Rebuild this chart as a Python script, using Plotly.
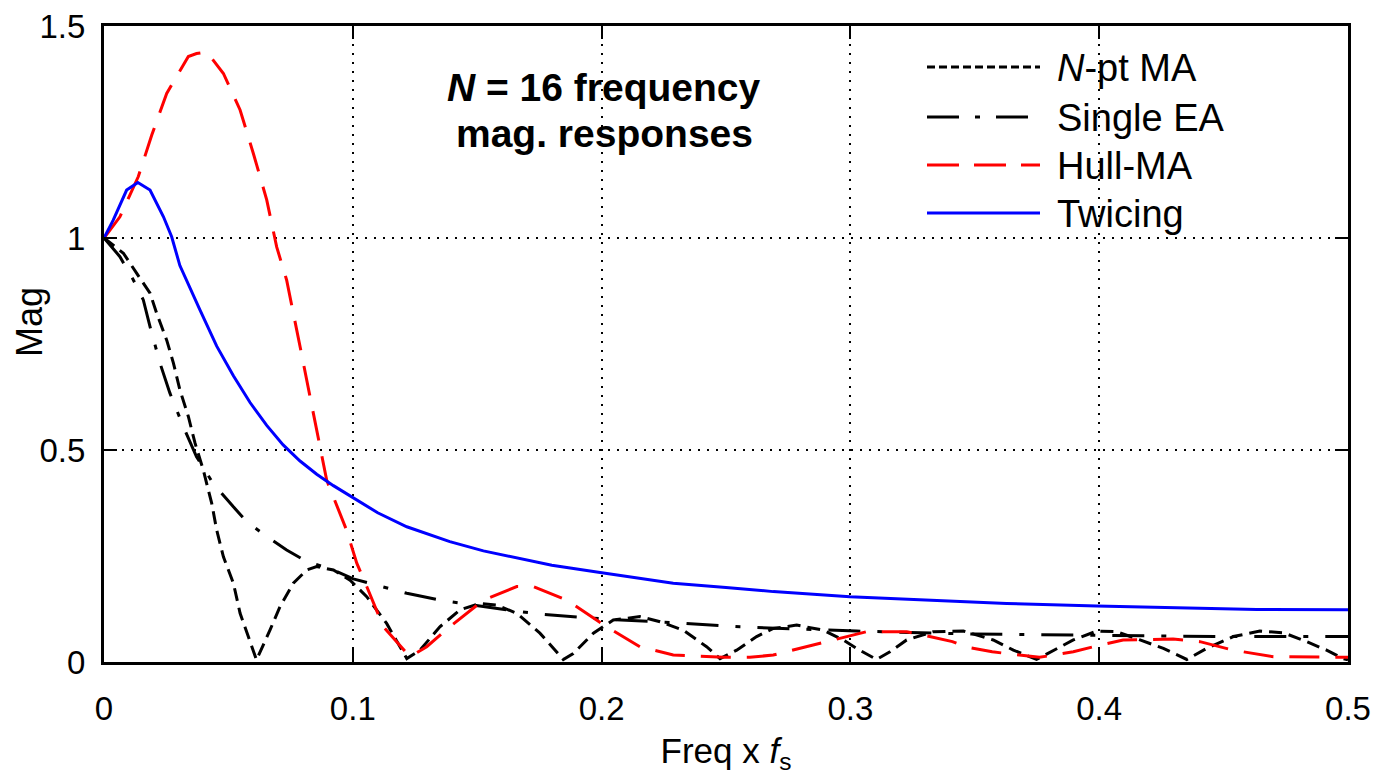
import plotly.graph_objects as go

# ---------------- data ----------------
ma_x = [0, 0.0078, 0.0131, 0.0185, 0.0212, 0.0252, 0.0279, 0.0305, 0.0339, 0.0366, 0.0399,
        0.0433, 0.0453, 0.048, 0.052, 0.0547, 0.058, 0.0613, 0.0667, 0.0707, 0.0761, 0.0815,
        0.0855, 0.0922, 0.0989, 0.1056, 0.1136, 0.1217, 0.127, 0.135, 0.1431, 0.1511, 0.1578,
        0.1659, 0.1752, 0.1846, 0.1886, 0.1967, 0.2047, 0.2154, 0.2235, 0.2328, 0.2422, 0.2476,
        0.2543, 0.2623, 0.269, 0.2784, 0.2891, 0.2971, 0.3025, 0.3105, 0.3159, 0.3226, 0.3333,
        0.3454, 0.3574, 0.3655, 0.3748, 0.3816, 0.3896, 0.399, 0.407, 0.4164, 0.4258, 0.4352,
        0.4432, 0.4539, 0.4646, 0.474, 0.4834, 0.4914, 0.4981, 0.5]
ma_y = [1.0, 0.964, 0.917, 0.870, 0.822, 0.759, 0.705, 0.642, 0.579, 0.516, 0.453,
        0.374, 0.311, 0.248, 0.186, 0.115, 0.060, 0.005, 0.075, 0.130, 0.186, 0.217,
        0.225, 0.217, 0.193, 0.154, 0.091, 0.008, 0.028, 0.083, 0.123, 0.138, 0.134,
        0.115, 0.068, 0.006, 0.020, 0.068, 0.099, 0.107, 0.095, 0.075, 0.036, 0.008,
        0.028, 0.060, 0.079, 0.087, 0.075, 0.052, 0.032, 0.006, 0.024, 0.052, 0.0715,
        0.073, 0.052, 0.028, 0.006, 0.028, 0.052, 0.073, 0.0715, 0.052, 0.032, 0.006,
        0.032, 0.060, 0.073, 0.069, 0.048, 0.028, 0.008, 0.005]

ea_x = [0, 0.0064, 0.0118, 0.0158, 0.0185, 0.0225, 0.0265, 0.0319, 0.0372, 0.0439, 0.052,
        0.0574, 0.0654, 0.0734, 0.0815, 0.0922, 0.1002, 0.1082, 0.1217, 0.135, 0.1485,
        0.1618, 0.1752, 0.1886, 0.202, 0.2288, 0.2556, 0.2824, 0.3025, 0.3494, 0.403,
        0.45, 0.5]
ea_y = [1.0, 0.956, 0.901, 0.854, 0.791, 0.705, 0.634, 0.555, 0.484, 0.421, 0.366,
        0.331, 0.296, 0.264, 0.237, 0.217, 0.196, 0.183, 0.162, 0.146, 0.134,
        0.123, 0.113, 0.107, 0.101, 0.093, 0.083, 0.077, 0.073, 0.066, 0.062,
        0.060, 0.060]

hull_x = [0, 0.0064, 0.0138, 0.0192, 0.0252, 0.0339, 0.0372, 0.0413, 0.048, 0.0547, 0.06,
          0.0654, 0.0694, 0.0734, 0.0788, 0.0841, 0.0895, 0.0975, 0.1016, 0.1056, 0.1123,
          0.123, 0.1297, 0.139, 0.1525, 0.1659, 0.1725, 0.186, 0.202, 0.2154, 0.2288,
          0.249, 0.2596, 0.269, 0.2824, 0.2958, 0.3065, 0.3226, 0.329, 0.341, 0.3467,
          0.357, 0.376, 0.3896, 0.3976, 0.4096, 0.4297, 0.4405, 0.4538, 0.47, 0.49, 0.5]
hull_y = [1.0, 1.05, 1.145, 1.243, 1.341, 1.428, 1.435, 1.439, 1.388, 1.302, 1.2,
          1.09, 0.979, 0.901, 0.744, 0.587, 0.429, 0.311, 0.233, 0.178, 0.083,
          0.0125, 0.036, 0.083, 0.146, 0.178, 0.178, 0.146, 0.083, 0.036, 0.0165,
          0.011, 0.011, 0.0165, 0.036, 0.056, 0.0715, 0.0715, 0.064, 0.048, 0.035,
          0.024, 0.011, 0.024, 0.036, 0.052, 0.054, 0.048, 0.028, 0.0125, 0.011, 0.011]

tw_x = [0, 0.0037, 0.0091, 0.0136, 0.0185, 0.0239, 0.0272, 0.0305, 0.0386, 0.0453, 0.052,
        0.0587, 0.0654, 0.072, 0.0788, 0.0855, 0.0922, 0.1, 0.11, 0.1217, 0.139, 0.1525,
        0.1659, 0.18, 0.1994, 0.2288, 0.25, 0.269, 0.2998, 0.33, 0.3628, 0.399, 0.43,
        0.4633, 0.5]
tw_y = [1.0, 1.042, 1.113, 1.131, 1.113, 1.05, 1.003, 0.935, 0.830, 0.745, 0.675,
        0.612, 0.558, 0.512, 0.474, 0.443, 0.416, 0.388, 0.352, 0.319, 0.284, 0.262,
        0.245, 0.228, 0.211, 0.186, 0.176, 0.166, 0.154, 0.146, 0.138, 0.132, 0.128,
        0.124, 0.123]

x_ticks = [0, 0.1, 0.2, 0.3, 0.4, 0.5]
x_tick_labels = ["0", "0.1", "0.2", "0.3", "0.4", "0.5"]
y_ticks = [0, 0.5, 1, 1.5]
y_tick_labels = ["0", "0.5", "1", "1.5"]

legend_labels = ["<i>N</i>-pt MA", "Single EA", "Hull-MA", "Twicing"]

# ---------------- styling ----------------
W, H = 1387, 775
ML, MR, MT, MB = 104, 39, 26, 113
PW, PH = W - ML - MR, H - MT - MB
FONT = "Liberation Sans, Arial, sans-serif"

series = [
    dict(x=ma_x, y=ma_y, color="black", dash="13px,7px", legdash="8px,4px"),
    dict(x=ea_x, y=ea_y, color="black", dash="32px,17px,5px,17px", legdash="32px,16px,5px,16px"),
    dict(x=hull_x, y=hull_y, color="#ff0000", dash="30px,16px", legdash="32px,15px"),
    dict(x=tw_x, y=tw_y, color="#0000ff", dash="solid", legdash="solid"),
]

fig = go.Figure()
for s, name in zip(series, legend_labels):
    fig.add_trace(go.Scatter(x=s["x"], y=s["y"], mode="lines", name=name,
                             line=dict(color=s["color"], width=3, dash=s["dash"]),
                             showlegend=False, hoverinfo="skip"))


def px_x(p):
    return (p - ML) / PW


def px_y(p):
    return (H - MB - p) / PH


# hand-drawn legend (long line samples as in the original)
leg_rows = [67, 117, 165, 213]
shapes = []
annotations = []
for s, name, row in zip(series, legend_labels, leg_rows):
    shapes.append(dict(type="line", xref="paper", yref="paper",
                       x0=px_x(927), x1=px_x(1040), y0=px_y(row), y1=px_y(row),
                       line=dict(color=s["color"], width=3, dash=s["legdash"])))
    annotations.append(dict(xref="paper", yref="paper", x=px_x(1055), y=px_y(row + 1),
                            text=name, showarrow=False, xanchor="left", yanchor="middle",
                            font=dict(family=FONT, size=38, color="black")))

annotations.append(dict(xref="paper", yref="paper", x=px_x(604), y=px_y(87),
                        text="<b><i>N</i> = 16 frequency</b>", showarrow=False,
                        xanchor="center", yanchor="middle",
                        font=dict(family=FONT, size=39, color="black")))
annotations.append(dict(xref="paper", yref="paper", x=px_x(604), y=px_y(133),
                        text="<b>mag. responses</b>", showarrow=False,
                        xanchor="center", yanchor="middle",
                        font=dict(family=FONT, size=39, color="black")))

# y-axis label placed like the original (slightly above the axis centre)
annotations.append(dict(xref="paper", yref="paper", x=px_x(29), y=px_y(322),
                        text="Mag", showarrow=False, textangle=-90,
                        xanchor="center", yanchor="middle",
                        font=dict(family=FONT, size=36, color="black")))

axis_common = dict(showgrid=True, gridcolor="black", gridwidth=1.5, griddash="2px,7px",
                   showline=True, linecolor="black", linewidth=3, mirror="ticks",
                   ticks="inside", ticklen=13, tickwidth=2, tickcolor="black",
                   zeroline=False, automargin=False,
                   tickfont=dict(family=FONT, size=33, color="black"))

fig.update_layout(
    width=W, height=H,
    margin=dict(l=ML, r=MR, t=MT, b=MB),
    paper_bgcolor="white", plot_bgcolor="white",
    showlegend=False,
    xaxis=dict(range=[0, 0.5], tickvals=x_ticks, ticktext=x_tick_labels,
               ticklabelstandoff=15,
               title=dict(text="Freq x <i>f</i><sub>s</sub>", standoff=16,
                          font=dict(family=FONT, size=35, color="black")),
               **axis_common),
    yaxis=dict(range=[0, 1.5], tickvals=y_ticks, ticktext=y_tick_labels,
               ticklabelstandoff=9,
               **axis_common),
    shapes=shapes,
    annotations=annotations,
)

fig.write_html("out.html", config={"displayModeBar": False},
               post_script="document.body.style.margin='0px';document.body.style.padding='0px';")
